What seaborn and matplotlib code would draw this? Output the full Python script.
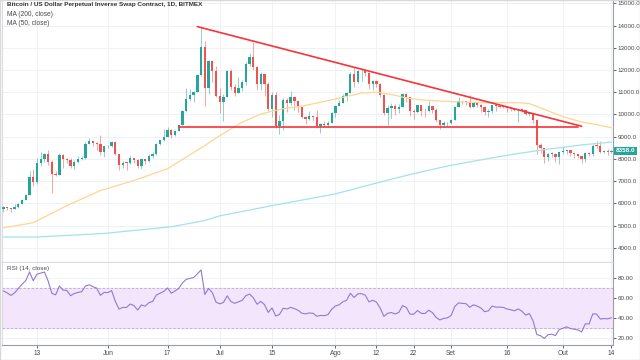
import numpy as np
import pandas as pd
import matplotlib
matplotlib.use("Agg")
import matplotlib.pyplot as plt
import matplotlib.transforms as mtransforms
from matplotlib.patches import Rectangle
import seaborn as sns

# ---- daily candles, BITMEX XBTUSD, 4 May -> 14 Oct 2019 ----
dates = pd.date_range("2019-05-04", "2019-10-14", freq="D")

opens = [
    5769, 5831, 5795, 5747, 5829, 5982, 6175, 6379, 7204, 6972, 7815, 7994, 8205, 7884, 7343, 7271, 8198, 7978, 7963, 7680, 7881, 7987, 8052, 8673, 8805, 8719, 8659, 8319,
    8574, 8564, 8742, 8209, 7707, 7824, 7822, 8043, 7954, 7688, 8000, 7927, 8145, 8230, 8693, 8838, 8994, 9320, 9081, 9273, 9527, 10145, 10701, 10855, 11011, 11790, 13016, 11182, 12407, 11959,
    10817, 10583, 10801, 11961, 11215, 10978, 11208, 11450, 12285, 12573, 12156, 11358, 11815, 11392, 10256, 10895, 9477, 9693, 10666, 10530, 10767, 10599, 10343, 9900, 9811, 9911, 9871, 9477, 9552, 9519, 9607,
    10085, 10399, 10518, 10821, 10970, 11805, 11478, 11941, 11966, 11862, 11354, 11523, 11382, 10895, 10051, 10311, 10374, 10231, 10345, 10916, 10763, 10138, 10131, 10407, 10160, 10138, 10370, 10185, 9755, 9510, 9599,
    9631, 9758, 10347, 10624, 10595, 10575, 10353, 10518, 10441, 10335, 10116, 10157, 10410, 10360, 10358, 10347, 10276, 10241, 10199, 10266, 10181, 10019, 10070, 9729, 8621, 8487, 8079, 8224, 8243, 8078,
    8293, 8344, 8393, 8260, 8205, 8151, 7989, 8245, 8229, 8596, 8586, 8321, 8336, 8321,
]
highs = [
    5890, 5840, 5810, 5960, 6000, 6190, 6430, 7450, 7530, 8050, 8300, 8250, 8380, 7940, 7450, 8270, 8200, 8060, 8040, 7950, 8130, 8150, 8780, 8930, 8820, 8740, 9090, 8590,
    8630, 8800, 8750, 8210, 7900, 7880, 8120, 8050, 7980, 8040, 8010, 8200, 8310, 8720, 8850, 9350, 9430, 9330, 9290, 9580, 10180, 11200, 11140, 11070, 11800, 13950, 13320, 12430, 12420, 12190,
    11200, 10940, 11980, 12060, 11360, 11680, 11560, 12340, 12780, 13250, 12160, 11920, 11840, 11450, 11030, 11000, 9960, 10750, 10750, 11040, 10800, 10660, 10350, 9920, 10170, 9920, 10190, 9600, 9700, 9720, 10110,
    10440, 10660, 10920, 11010, 11900, 12120, 12000, 12040, 12050, 11910, 11540, 11540, 11430, 10910, 10430, 10520, 10470, 10480, 10950, 10950, 10780, 10240, 10440, 10420, 10300, 10620, 10390, 10270, 9760, 9690, 9680,
    9800, 10400, 10790, 10650, 10620, 10880, 10540, 10580, 10480, 10370, 10250, 10440, 10430, 10420, 10370, 10390, 10290, 10300, 10300, 10290, 10190, 10090, 10080, 9800, 8730, 8500, 8270, 8320, 8250, 8330,
    8520, 8400, 8400, 8280, 8230, 8170, 8330, 8300, 8660, 8800, 8790, 8420, 8450, 8400,
]
lows = [
    5630, 5720, 5620, 5740, 5790, 5960, 6140, 6370, 6800, 6890, 7680, 7860, 7730, 6450, 7220, 7260, 7590, 7800, 7590, 7540, 7820, 7940, 8010, 8650, 8560, 8410, 8180, 8100,
    8500, 8540, 8160, 7510, 7600, 7520, 7790, 7820, 7580, 7560, 7760, 7850, 8060, 8180, 8640, 8800, 8990, 8940, 9040, 9260, 9520, 10110, 10600, 10560, 11000, 11750, 10360, 10920, 11470, 10770,
    10050, 9700, 10800, 11100, 10830, 10970, 11050, 11340, 12190, 11980, 11080, 11090, 10830, 10150, 9900, 9390, 9100, 9300, 10130, 10440, 10190, 10110, 9830, 9550, 9760, 9700, 9380, 9170, 9420, 9430, 9600,
    9900, 10360, 10510, 10590, 10970, 11220, 11420, 11520, 11720, 11150, 11100, 11250, 10780, 9980, 9510, 9860, 9990, 10080, 10340, 10570, 9950, 9800, 10080, 9920, 9900, 10130, 10080, 9650, 9330, 9430, 9500,
    9590, 9750, 10330, 10450, 10440, 10300, 10330, 10330, 10120, 9980, 9870, 10060, 10150, 10300, 10270, 10100, 10150, 10160, 9650, 10110, 9960, 9920, 9620, 8200, 8260, 7810, 7900, 8100, 7870, 7760,
    8200, 8200, 8140, 8040, 8060, 7800, 7860, 8120, 8130, 8480, 8250, 8270, 8180, 8280,
]
closes = [
    5831, 5795, 5747, 5829, 5982, 6175, 6379, 7204, 6972, 7815, 7994, 8205, 7884, 7343, 7271, 8198, 7978, 7963, 7680, 7881, 7987, 8052, 8673, 8805, 8719, 8659, 8319, 8574,
    8564, 8742, 8209, 7707, 7824, 7822, 8043, 7954, 7688, 8000, 7927, 8145, 8230, 8693, 8838, 8994, 9320, 9081, 9273, 9527, 10145, 10701, 10855, 11011, 11790, 13016, 11182, 12407, 11959, 10817,
    10583, 10801, 11961, 11215, 10978, 11208, 11450, 12285, 12573, 12156, 11358, 11815, 11392, 10256, 10895, 9477, 9693, 10666, 10530, 10767, 10599, 10343, 9900, 9811, 9911, 9871, 9477, 9552, 9519, 9607, 10085,
    10399, 10518, 10821, 10970, 11805, 11478, 11941, 11966, 11862, 11354, 11523, 11382, 10895, 10051, 10311, 10374, 10231, 10345, 10916, 10763, 10138, 10131, 10407, 10160, 10138, 10370, 10185, 9755, 9510, 9599, 9631,
    9758, 10347, 10624, 10595, 10575, 10353, 10518, 10441, 10335, 10116, 10157, 10410, 10360, 10358, 10347, 10276, 10241, 10199, 10266, 10181, 10019, 10070, 9729, 8621, 8487, 8079, 8224, 8243, 8078, 8293,
    8344, 8393, 8260, 8205, 8151, 7989, 8245, 8229, 8596, 8586, 8321, 8336, 8321, 8358,
]
# closes 3 Apr -> 3 May, only used to warm up the RSI
seed_closes = [4970, 4900, 5040, 5060, 5200, 5240, 5150, 5310, 5020, 5080, 5060, 5130, 5020, 5200, 5250, 5290,
               5270, 5330, 5290, 5400, 5570, 5460, 5210, 5280, 5270, 5280, 5250, 5350, 5400, 5500, 5770]

# moving averages
ma50_dates = ["2019-05-04", "2019-05-12", "2019-05-21", "2019-05-30", "2019-06-08", "2019-06-17", "2019-06-22",
              "2019-06-27", "2019-07-01", "2019-07-07", "2019-07-12", "2019-07-18", "2019-07-23", "2019-07-28",
              "2019-08-03", "2019-08-08", "2019-08-12", "2019-08-16", "2019-08-20", "2019-08-25", "2019-09-01",
              "2019-09-10", "2019-09-19", "2019-09-22", "2019-09-26", "2019-10-01", "2019-10-06", "2019-10-10", "2019-10-14"]
ma50_vals = [4900, 5135, 5900, 6580, 7030, 7560, 8080, 8600, 9050, 9650, 10020, 10260, 10370, 10550,
             10770, 10960, 11000, 10900, 10740, 10640, 10580, 10530, 10530, 10490, 10230, 9900, 9660, 9540, 9400]

ma200_dates = ["2019-05-04", "2019-05-13", "2019-05-22", "2019-05-31", "2019-06-09", "2019-06-18", "2019-06-27",
               "2019-07-01", "2019-07-15", "2019-08-01", "2019-08-13", "2019-08-22", "2019-08-31", "2019-09-09",
               "2019-09-18", "2019-09-27", "2019-10-06", "2019-10-14"]
ma200_vals = [4490, 4490, 4570, 4650, 4800, 4950, 5230, 5440, 5900, 6430, 6960, 7340, 7680, 7960,
              8220, 8440, 8630, 8760]

# hand-drawn triangle
tri_top_dates = ["2019-06-25", "2019-10-06"]
tri_top_vals = [13950, 9470]
tri_base_dates = ["2019-06-20", "2019-10-05"]
tri_base_vals = [9420, 9420]

tick_dates = ["2019-05-13", "2019-06-01", "2019-06-17", "2019-07-01", "2019-07-15", "2019-08-01",
              "2019-08-12", "2019-08-22", "2019-09-01", "2019-09-16", "2019-10-01", "2019-10-14"]
tick_labels = ["13", "Jun", "17", "Jul", "15", "Ago", "12", "22", "Set", "16", "Out", "14"]
price_ticks = list(range(4000, 15001, 1000))
rsi_ticks = [20, 40, 60, 80]

UP = "#26a69a"
DOWN = "#ef5350"
GRID = "#eef1f6"
TXT = "#4a4a4a"

sns.set_theme(style="white")
plt.rcParams["font.family"] = ["Liberation Sans Narrow", "Liberation Sans", "DejaVu Sans"]

fig = plt.figure(figsize=(6.4, 3.6), dpi=100)
ax = fig.add_axes([2 / 640, 98 / 360, 611 / 640, 264 / 360])
ax_rsi = fig.add_axes([2 / 640, 15 / 360, 611 / 640, 83 / 360], sharex=ax)

ticks_dt = pd.to_datetime(tick_dates)
for a in (ax, ax_rsi):
    for t in ticks_dt:
        a.axvline(t, color=GRID, lw=0.7, zorder=0)
for p in price_ticks:
    ax.axhline(p, color=GRID, lw=0.7, zorder=0)
for r in rsi_ticks:
    ax_rsi.axhline(r, color=GRID, lw=0.7, zorder=0)

# ---- candles ----
o = np.array(opens, dtype=float)
c = np.array(closes, dtype=float)
up = c >= o
colors = np.where(up, UP, DOWN)
body_low = np.minimum(o, c)
body_h = np.maximum(np.abs(c - o), 25)
ax.vlines(dates, lows, highs, colors=colors, linewidth=0.6, alpha=0.6, zorder=2)
ax.bar(dates, body_h, bottom=body_low, width=0.62, color=colors, linewidth=0, zorder=3)

# ---- moving averages ----
sns.lineplot(x=pd.to_datetime(ma200_dates), y=ma200_vals, ax=ax, color="#a3e2ec", lw=0.9, zorder=4)
sns.lineplot(x=pd.to_datetime(ma50_dates), y=ma50_vals, ax=ax, color="#fdd690", lw=0.9, zorder=4)

# ---- triangle ----
sns.lineplot(x=pd.to_datetime(tri_top_dates), y=tri_top_vals, ax=ax, color="#f6343a", lw=1.2, zorder=5)
sns.lineplot(x=pd.to_datetime(tri_base_dates), y=tri_base_vals, ax=ax, color="#f6343a", lw=1.2, zorder=5)

ax.set_xlim(dates[0] - pd.Timedelta(hours=9), dates[-1] + pd.Timedelta(hours=10))
ax.set_ylim(3366, 15237)
ax.set_yticks(price_ticks)
ax.set_yticklabels([f"{p:.1f}" for p in price_ticks])
ax.yaxis.tick_right()
ax.tick_params(axis="y", length=2, pad=1.2, labelsize=4.5, colors=TXT, width=0.6)
ax.tick_params(axis="x", bottom=False, labelbottom=False)
ax.set_xlabel("")
ax.set_ylabel("")

# last price tag
blend = mtransforms.blended_transform_factory(ax.transAxes, ax.transData)
ax.text(1.004, closes[-1], f"{closes[-1]:.1f}", transform=blend, ha="left", va="center",
        fontsize=4.5, color="white", fontweight="bold",
        bbox=dict(boxstyle="square,pad=0.3", fc=UP, ec="none"))

ax.text(0.008, 0.985, "Bitcoin / US Dollar Perpetual Inverse Swap Contract, 1D, BITMEX",
        transform=ax.transAxes, fontsize=4.6, color="#333333", fontweight="bold", va="top")
ax.text(0.008, 0.95, "MA (200, close)", transform=ax.transAxes, fontsize=4.8, color=TXT, va="top")
ax.text(0.008, 0.915, "MA (50, close)", transform=ax.transAxes, fontsize=4.8, color=TXT, va="top")

# ---- RSI (14) from the closes, Wilder smoothing ----
all_close = pd.Series(seed_closes + closes, dtype=float)
delta = all_close.diff()
gain = delta.clip(lower=0).ewm(alpha=1 / 14, adjust=False).mean()
loss = (-delta.clip(upper=0)).ewm(alpha=1 / 14, adjust=False).mean()
rsi = (100 - 100 / (1 + gain / loss)).iloc[len(seed_closes):].to_numpy()

ax_rsi.axhspan(30, 70, color="#f3e6fc", zorder=0.5)
ax_rsi.axhline(70, color="#b9aec6", lw=0.6, ls=(0, (3, 2)), zorder=1)
ax_rsi.axhline(30, color="#b9aec6", lw=0.6, ls=(0, (3, 2)), zorder=1)
sns.lineplot(x=dates, y=rsi, ax=ax_rsi, color="#9178d6", lw=0.8, zorder=3)
ax_rsi.set_ylim(12.7, 95.7)
ax_rsi.set_yticks(rsi_ticks)
ax_rsi.set_yticklabels([f"{r:.2f}" for r in rsi_ticks])
ax_rsi.yaxis.tick_right()
ax_rsi.tick_params(axis="y", length=2, pad=1.2, labelsize=4.5, colors=TXT, width=0.6)
ax_rsi.set_xticks(ticks_dt)
ax_rsi.set_xticklabels(tick_labels)
ax_rsi.tick_params(axis="x", length=2, pad=1.5, labelsize=4.8, colors=TXT, width=0.6, bottom=True)
ax_rsi.set_xlabel("")
ax_rsi.set_ylabel("")
ax_rsi.text(0.008, 0.95, "RSI (14, close)", transform=ax_rsi.transAxes, fontsize=4.6, color=TXT, va="top")

for a in (ax, ax_rsi):
    for s in ["left", "top"]:
        a.spines[s].set_color("#d4d6dc")
        a.spines[s].set_linewidth(0.6)
    for s in ["right", "bottom"]:
        a.spines[s].set_color("#9a9ea8")
        a.spines[s].set_linewidth(0.8)
    a.set_facecolor("white")

fig.patches.append(Rectangle((0, 0), 1, 1, transform=fig.transFigure, fill=False, ec="#d8d8d8", lw=1.0))
fig.savefig("out.png", dpi=100)
